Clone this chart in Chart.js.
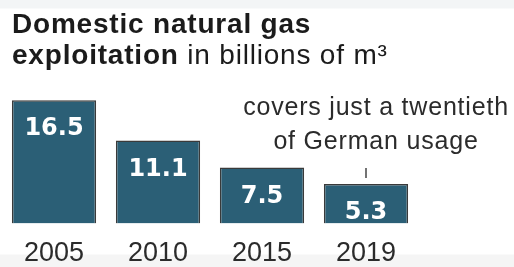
<!DOCTYPE html>
<html>
<head>
<meta charset="utf-8">
<script src="https://cdn.jsdelivr.net/npm/chart.js@4"></script>
<style>
  html, body { margin: 0; padding: 0; }
  body {
    width: 514px; height: 267px;
    background: linear-gradient(#f3f5f6 0, #f3f5f6 8px, #fff 9px, #fff 254px, #f5f5f5 255px);
  }
  #chart { display: block; }
</style>
</head>
<body>
<canvas id="chart" width="514" height="267"></canvas>
<script>
const years = ['2005', '2010', '2015', '2019'];
const output = [16.5, 11.1, 7.5, 5.3];
const titleLine1 = 'Domestic natural gas';
const titleBold2 = 'exploitation';
const titleRest2 = ' in billions of m³';
const note = ['covers just a twentieth', 'of German usage'];

const textFont = '"Liberation Sans", Arial, sans-serif';

// titles, value labels and the note above the last bar
const extras = {
    id: 'extras',
    afterDraw(chart) {
        const ctx = chart.ctx;
        const bars = chart.getDatasetMeta(0).data;
        ctx.save();
        ctx.textBaseline = 'alphabetic';

        ctx.fillStyle = '#1b1b1b';
        ctx.textAlign = 'left';
        ctx.letterSpacing = '0.8px';
        ctx.font = 'bold 28px ' + textFont;
        ctx.fillText(titleLine1, 12, 33);
        ctx.fillText(titleBold2, 12, 64);
        const w = ctx.measureText(titleBold2).width;
        ctx.font = '28px ' + textFont;
        ctx.fillText(titleRest2, 12 + w, 64);

        ctx.letterSpacing = '0px';
        ctx.fillStyle = '#fff';
        ctx.textAlign = 'center';
        ctx.font = 'bold 24px "DejaVu Sans", sans-serif';
        bars.forEach((bar, i) => {
            ctx.fillText(output[i].toFixed(1), bar.x, bar.y + 35);
        });

        const last = bars[bars.length - 1];
        ctx.fillStyle = '#2b2b2b';
        ctx.letterSpacing = '0.8px';
        ctx.font = '25px ' + textFont;
        ctx.fillText(note[0], last.x + 10, 115);
        ctx.fillText(note[1], last.x + 10, 149);
        ctx.strokeStyle = '#444';
        ctx.lineWidth = 1.5;
        ctx.beginPath();
        ctx.moveTo(last.x, last.y - 16);
        ctx.lineTo(last.x, last.y - 6);
        ctx.stroke();
        ctx.restore();
    }
};

new Chart(document.querySelector('#chart'), {
    type: 'bar',
    data: {
        labels: years,
        datasets: [{
            data: output,
            backgroundColor: '#2b5f76',
            borderColor: '#3a3a3a',
            borderWidth: 1.5,
            barPercentage: 0.81,
            categoryPercentage: 1
        }]
    },
    options: {
        responsive: false,
        animation: false,
        layout: { padding: { top: 74, left: 2, right: 96, bottom: -17 } },
        scales: {
            x: {
                grid: { display: false, drawTicks: false },
                border: { display: false },
                ticks: { color: '#2b2b2b', padding: 14, font: { family: textFont, size: 27 } }
            },
            y: { display: false, min: 0, max: 20 }
        },
        plugins: { legend: { display: false }, tooltip: { enabled: false } }
    },
    plugins: [extras]
});
</script>
</body>
</html>
